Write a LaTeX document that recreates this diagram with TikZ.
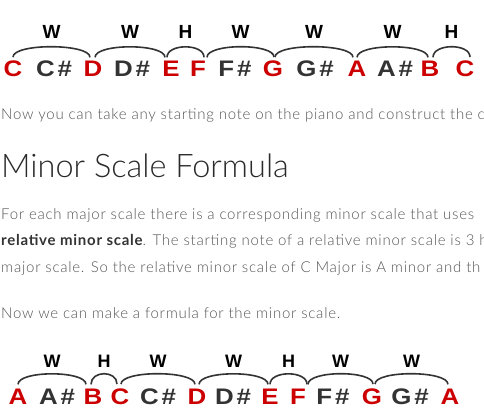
\documentclass[tikz,border=0pt]{standalone}
\usepackage{fontspec}
\setmainfont{Lato Light}[BoldFont=Lato Bold]
\newfontfamily\notefont{Liberation Sans}
\newfontfamily\bodyfont{Lato Light}[LetterSpace=5, BoldFont=Lato Bold]
\usetikzlibrary{positioning}

\definecolor{notered}{HTML}{CC0000}
\definecolor{notegray}{HTML}{333333}
\definecolor{bodygray}{HTML}{555555}
\definecolor{headgray}{HTML}{2A2A2A}

\newcommand{\wide}[1]{\scalebox{1.15}[1]{#1}}
\newcommand{\sharpnote}[1]{\scalebox{1.15}[1]{#1\hspace{2.5pt}\#}}

\begin{document}
\begin{tikzpicture}[x=1pt, y=-1pt,
  note/.style={font=\notefont\bfseries\fontsize{22.5}{22.5}\selectfont, inner sep=0pt, anchor=base},
  key/.style={text=notered},
  passing/.style={text=notegray},
  arcline/.style={draw=notegray, line width=1.6pt},
  steplabel/.style={font=\notefont\bfseries\fontsize{19}{19}\selectfont, inner sep=0pt, anchor=base, yshift=8pt, text=black},
  smalllabel/.style={font=\notefont\bfseries\fontsize{18}{18}\selectfont, inner sep=0pt, anchor=base, yshift=6.5pt, text=black},
  bodyline/.style={font=\bodyfont\fontsize{15}{15}\selectfont, text=bodygray, inner sep=0pt, anchor=base west}
]
\useasboundingbox (0,0) rectangle (484,417);
\clip (0,0) rectangle (484,417);

% major scale row
\node[note, key] (c1) at (13,77) {\wide{C}};
\node[note, passing] (cs1) at (54,77) {\sharpnote{C}};
\node[note, key] (d1) at (93,77) {\wide{D}};
\node[note, passing] (ds1) at (132,77) {\sharpnote{D}};
\node[note, key] (e1) at (171,77) {\wide{E}};
\node[note, key] (f1) at (198,77) {\wide{F}};
\node[note, passing] (fs1) at (235,77) {\sharpnote{F}};
\node[note, key] (g1) at (273,77) {\wide{G}};
\node[note, passing] (gs1) at (315,77) {\sharpnote{G}};
\node[note, key] (a1) at (357,77) {\wide{A}};
\node[note, passing] (as1) at (395,77) {\sharpnote{A}};
\node[note, key] (b1) at (430,77) {\wide{B}};
\node[note, key] (c2) at (465,77) {\wide{C}};

\foreach \from/\to/\sa/\sb/\lab [count=\i] in
  {c1/d1/0/-3/W, d1/e1/2/-6/W, e1/f1/-4/6/H, f1/g1/9/1/W,
   g1/a1/2/-4/W, a1/b1/0/-2/W, b1/c2/3/5/H}
  \draw[arcline] ([shift={(\sa pt,4pt)}]\from.north)
    .. controls +(0,-14) and +(0,-14) ..
    node[steplabel, name=maj\i] {\lab} ([shift={(\sb pt,4pt)}]\to.north);

% text
\node[bodyline] (intro) at (1,119) {Now you can take any starting note on the piano and construct the c};
\node[font=\fontsize{32.5}{32.5}\selectfont, text=headgray, inner sep=0pt, anchor=base west] (heading) at (1,177) {Minor Scale Formula};
\node[bodyline] (para1) at (1,219) {For each major scale there is a corresponding minor scale that uses};
\node[bodyline] (para2) at (1,245) {{\color{notegray}\bfseries relative minor scale}. The starting note of a relative minor scale is 3 h};
\node[bodyline] (para3) at (1,272) {major scale. So the relative minor scale of C Major is A minor and th};
\node[bodyline] (para4) at (1,318) {Now we can make a formula for the minor scale.};

% minor scale row
\node[note, key] (a2) at (18,404) {\wide{A}};
\node[note, passing] (as2) at (57,404) {\sharpnote{A}};
\node[note, key] (b2) at (93,404) {\wide{B}};
\node[note, key] (c3) at (120,404) {\wide{C}};
\node[note, passing] (cs3) at (158,404) {\sharpnote{C}};
\node[note, key] (d3) at (197,404) {\wide{D}};
\node[note, passing] (ds3) at (233,404) {\sharpnote{D}};
\node[note, key] (e3) at (270,404) {\wide{E}};
\node[note, key] (f3) at (298,404) {\wide{F}};
\node[note, passing] (fs3) at (333,404) {\sharpnote{F}};
\node[note, key] (g3) at (372,404) {\wide{G}};
\node[note, passing] (gs3) at (410,404) {\sharpnote{G}};
\node[note, key] (a3) at (450,404) {\wide{A}};

\foreach \from/\to/\sa/\sb/\lab [count=\i] in
  {a2/b2/0/-7/W, b2/c3/-2/-3/H, c3/d3/1/-2/W, d3/e3/2/-2/W,
   e3/f3/0/9/H, f3/g3/10/1/W, g3/a3/3/-2/W}
  \draw[arcline] ([shift={(\sa pt,4pt)}]\from.north)
    .. controls +(0,-14) and +(0,-14) ..
    node[smalllabel, name=min\i] {\lab} ([shift={(\sb pt,4pt)}]\to.north);

\end{tikzpicture}
\end{document}
